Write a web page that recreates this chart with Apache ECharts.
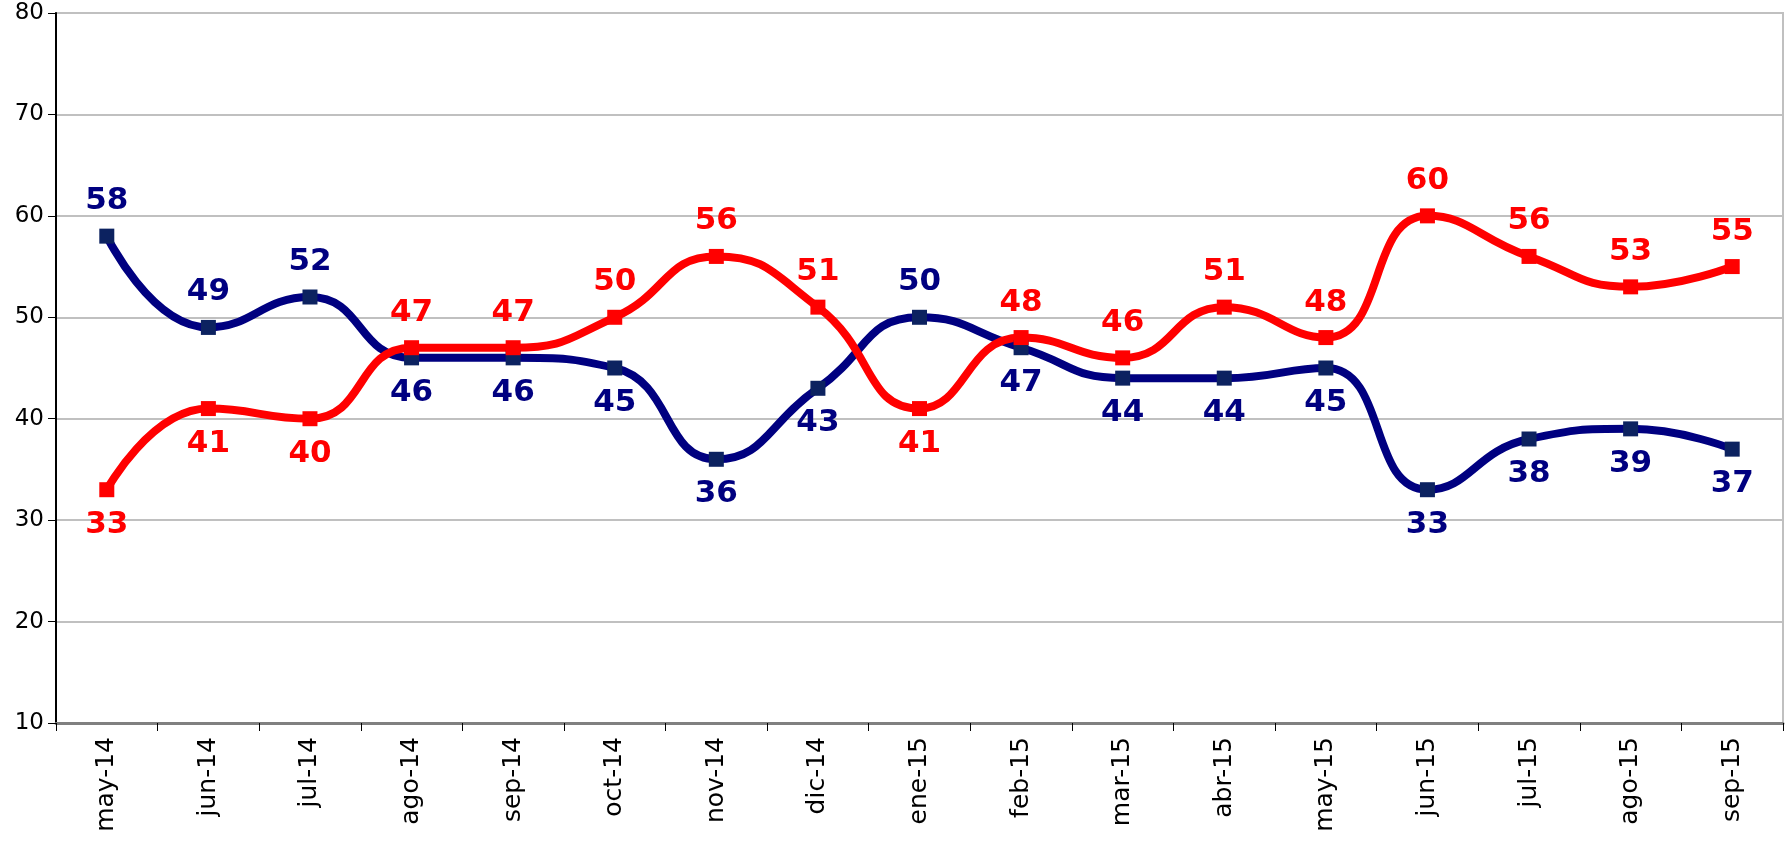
<!DOCTYPE html>
<html>
<head>
<meta charset="utf-8">
<script src="https://cdn.jsdelivr.net/npm/echarts@6/dist/echarts.min.js"></script>
<style>
  html, body { margin: 0; padding: 0; background: #fff; }
  #chart { width: 1787px; height: 853px; }
</style>
</head>
<body>
<div id="chart"></div>
<script>
const months = ['may-14', 'jun-14', 'jul-14', 'ago-14', 'sep-14', 'oct-14', 'nov-14', 'dic-14', 'ene-15',
  'feb-15', 'mar-15', 'abr-15', 'may-15', 'jun-15', 'jul-15', 'ago-15', 'sep-15']
const blueValues = [58, 49, 52, 46, 46, 45, 36, 43, 50, 47, 44, 44, 45, 33, 38, 39, 37]
const redValues = [33, 41, 40, 47, 47, 50, 56, 51, 41, 48, 46, 51, 48, 60, 56, 53, 55]

// where each data label sits
const blueLabelPos = ['top', 'top', 'top', 'bottom', 'bottom', 'bottom', 'bottom', 'bottom', 'top',
  'bottom', 'bottom', 'bottom', 'bottom', 'bottom', 'bottom', 'bottom', 'bottom']
const redLabelPos = ['bottom', 'bottom', 'bottom', 'top', 'top', 'top', 'top', 'top', 'bottom',
  'top', 'top', 'top', 'top', 'top', 'top', 'top', 'top']

const makeSeries = (name, values, positions, color, markerColor) => ({
  name,
  type: 'line',
  smooth: 0.5,
  data: values.map((v, i) => ({ value: v, label: { position: positions[i] } })),
  symbol: 'rect',
  symbolSize: 15,
  lineStyle: { color, width: 8 },
  itemStyle: { color: markerColor },
  label: {
    show: true,
    distance: 12,
    color,
    fontFamily: 'DejaVu Sans',
    fontWeight: 'bold',
    fontSize: 31
  }
})

const chart = echarts.init(document.getElementById('chart'))
chart.setOption({
  animation: false,
  grid: {
    left: 56, right: 4, top: 13, bottom: 130,
    show: true, borderColor: '#c0c0c0', borderWidth: 2
  },
  xAxis: {
    type: 'category',
    data: months,
    boundaryGap: true,
    axisLine: { lineStyle: { color: '#808080', width: 3 } },
    axisTick: { show: true, length: 8, lineStyle: { color: '#000' } },
    axisLabel: {
      rotate: 90,
      margin: 14,
      color: '#000',
      fontFamily: 'DejaVu Sans',
      fontSize: 25
    }
  },
  yAxis: {
    type: 'value',
    min: 10,
    max: 80,
    interval: 10,
    axisLine: { show: true, lineStyle: { color: '#000', width: 2 } },
    axisTick: { show: true, length: 8, lineStyle: { color: '#000' } },
    axisLabel: { color: '#000', fontFamily: 'DejaVu Sans', fontSize: 23, margin: 12 },
    splitLine: { lineStyle: { color: '#c0c0c0', width: 2 } }
  },
  series: [
    makeSeries('Serie 1', blueValues, blueLabelPos, '#000080', '#0c2260'),
    makeSeries('Serie 2', redValues, redLabelPos, '#ff0000', '#ff0000')
  ]
})
</script>
</body>
</html>
